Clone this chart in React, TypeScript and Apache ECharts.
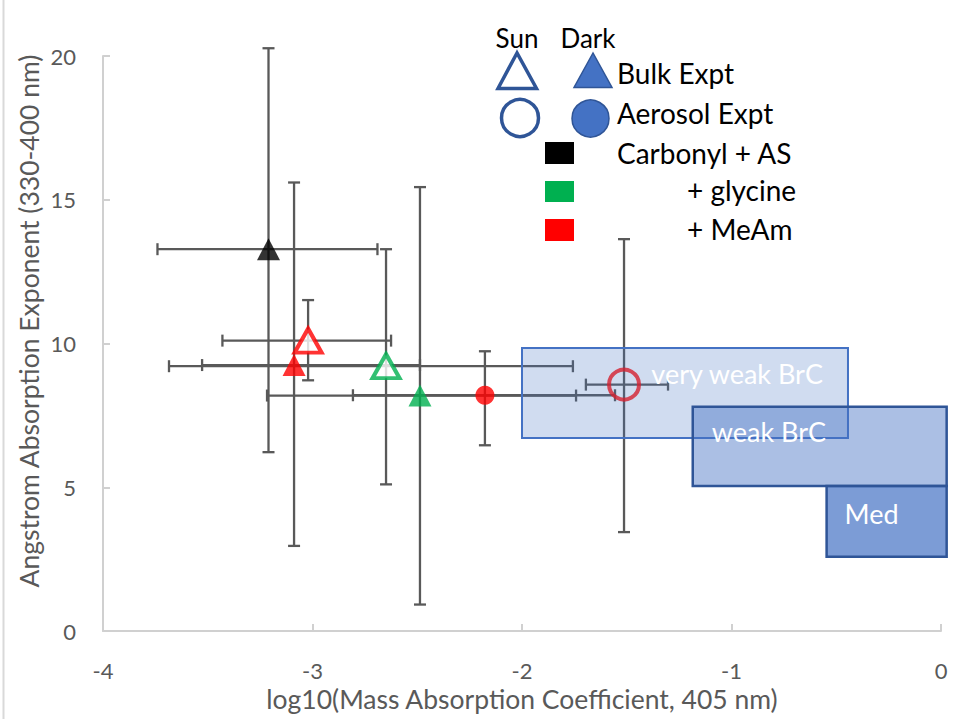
import React, { useEffect, useRef } from "react";
import * as echarts from "echarts";

// ---- data ----
const pointNames = [
  "Carbonyl + AS, Bulk, Dark",
  "+ MeAm, Bulk, Sun",
  "+ MeAm, Bulk, Dark",
  "+ glycine, Bulk, Sun",
  "+ glycine, Bulk, Dark",
  "+ MeAm, Aerosol, Dark",
  "+ MeAm, Aerosol, Sun",
];
const pointX = [-3.21, -3.021, -3.088, -2.649, -2.487, -2.177, -1.513];
const pointY = [13.28, 10.1, 9.25, 9.21, 8.19, 8.2, 8.57];
const xLow = [-3.74, -3.43, -3.527, -3.685, -3.217, -2.807, -1.695];
const xHigh = [-2.69, -2.625, -2.487, -1.757, -1.742, -1.556, -1.303];
const yLow = [6.22, 8.72, 2.96, 5.1, 0.92, 6.46, 3.44];
const yHigh = [20.27, 11.51, 15.6, 13.28, 15.44, 9.73, 13.63];

const boxNames = ["very weak BrC", "weak BrC", "Med"];
const boxXMin = [-2.0, -1.185, -0.546];
const boxXMax = [-0.444, 0.027, 0.027];
const boxYMin = [6.71, 5.04, 2.58];
const boxYMax = [9.84, 7.8, 5.04];

const xTickMin = -4;
const xTickMax = 0;
const yTickMin = 0;
const yTickMax = 20;

const xTitle = "log10(Mass Absorption Coefficient, 405 nm)";
const yTitle = "Angstrom Absorption Exponent (330-400 nm)";

// ---- styles ----
const FONT = "Lato";
const AXIS_GRAY = "#595959";
const ERR = "#595959";

const markerStyles: any[] = [
  { symbol: "triangle", symbolSize: [23, 22], itemStyle: { color: "#000000" } },
  { symbol: "triangle", symbolSize: [27, 24], itemStyle: { color: "#ffffff", borderColor: "#ff0000", borderWidth: 4 } },
  { symbol: "triangle", symbolSize: [23, 22], itemStyle: { color: "#ff0000" } },
  { symbol: "triangle", symbolSize: [27, 24], itemStyle: { color: "#ffffff", borderColor: "#00b050", borderWidth: 4 } },
  { symbol: "triangle", symbolSize: [23, 22], itemStyle: { color: "#00b050" } },
  { symbol: "circle", symbolSize: 19, itemStyle: { color: "#ff0000" } },
  { symbol: "circle", symbolSize: 30, itemStyle: { color: "rgba(0,0,0,0)", borderColor: "#d4202f", borderWidth: 4 } },
];

const boxStyles = [
  { fill: "rgba(68,114,196,0.25)", stroke: "#4472c4", lineWidth: 2, label: { align: "right", dx: -25, dy: 25, anchor: "right" } },
  { fill: "rgba(68,114,196,0.45)", stroke: "#2f5597", lineWidth: 2.5, label: { align: "left", dx: 19, dy: 25, anchor: "left" } },
  { fill: "rgba(68,114,196,0.70)", stroke: "#2f5597", lineWidth: 2.5, label: { align: "left", dx: 18, dy: 27, anchor: "left" } },
];

export default function App() {
  const ref = useRef<HTMLDivElement>(null);
  useEffect(() => {
    if (!ref.current) return;
    const chart = echarts.init(ref.current, undefined, { renderer: "svg" });

    const errData = pointX.map((x, i) => [x, pointY[i], xLow[i], xHigh[i], yLow[i], yHigh[i]]);
    const boxData = boxNames.map((n, i) => [boxXMin[i], boxYMin[i], boxXMax[i], boxYMax[i]]);
    const scatterData = pointX.map((x, i) => ({
      name: pointNames[i],
      value: [x, pointY[i]],
      ...markerStyles[i],
    }));

    const legendText = (text: string, x: number, y: number, align = "left", size = 28) => ({
      type: "text",
      x,
      y,
      style: { text, fill: "#000000", font: `${size}px ${FONT}`, textAlign: align, textVerticalAlign: "middle" },
    });

    const option: any = {
      animation: false,
      backgroundColor: "#ffffff",
      textStyle: { fontFamily: FONT },
      grid: { left: 103, right: 14, top: 56, bottom: 88, containLabel: false },
      xAxis: {
        type: "value",
        min: xTickMin,
        max: xTickMax,
        interval: 1,
        name: xTitle,
        nameLocation: "middle",
        nameGap: 51,
        nameTextStyle: { color: AXIS_GRAY, fontSize: 26.5, fontFamily: FONT },
        axisLine: { onZero: false, lineStyle: { color: "#d0d0d0", width: 2 } },
        axisTick: { inside: true, length: 7, lineStyle: { color: "#d0d0d0", width: 2 } },
        axisLabel: { color: AXIS_GRAY, fontSize: 22, margin: 28, fontFamily: FONT },
        splitLine: { show: false },
      },
      yAxis: {
        type: "value",
        min: yTickMin,
        max: yTickMax,
        interval: 5,
        axisLine: { show: true, onZero: false, lineStyle: { color: "#d0d0d0", width: 2 } },
        axisTick: { show: true, inside: true, length: 7, lineStyle: { color: "#d0d0d0", width: 2 } },
        axisLabel: { color: AXIS_GRAY, fontSize: 22, margin: 27, fontFamily: FONT },
        splitLine: { show: false },
      },
      series: [
        {
          type: "custom",
          name: "error bars",
          z: 1,
          clip: false,
          encode: { x: 0, y: 1 },
          data: errData,
          renderItem: (params: any, api: any) => {
            const x = api.value(0), y = api.value(1);
            const c = api.coord([x, y]);
            const xl = api.coord([api.value(2), y]);
            const xh = api.coord([api.value(3), y]);
            const yl = api.coord([x, api.value(4)]);
            const yh = api.coord([x, api.value(5)]);
            const cap = 6;
            const style = { stroke: ERR, lineWidth: 2.3 };
            const ln = (x1: number, y1: number, x2: number, y2: number) => ({ type: "line", shape: { x1, y1, x2, y2 }, style });
            return {
              type: "group",
              children: [
                ln(xl[0], c[1], xh[0], c[1]),
                ln(xl[0], c[1] - cap, xl[0], c[1] + cap),
                ln(xh[0], c[1] - cap, xh[0], c[1] + cap),
                ln(c[0], yl[1], c[0], yh[1]),
                ln(c[0] - cap, yl[1], c[0] + cap, yl[1]),
                ln(c[0] - cap, yh[1], c[0] + cap, yh[1]),
              ],
            };
          },
        },
        {
          type: "custom",
          name: "BrC classes",
          z: 2,
          clip: false,
          encode: { x: [0, 2], y: [1, 3] },
          data: boxData,
          renderItem: (params: any, api: any) => {
            const i = params.dataIndex;
            const p1 = api.coord([api.value(0), api.value(3)]);
            const p2 = api.coord([api.value(2), api.value(1)]);
            const st = boxStyles[i];
            const lx = st.label.anchor === "right" ? p2[0] + st.label.dx : p1[0] + st.label.dx;
            return {
              type: "group",
              children: [
                {
                  type: "rect",
                  shape: { x: p1[0], y: p1[1], width: p2[0] - p1[0], height: p2[1] - p1[1] },
                  style: { fill: st.fill, stroke: st.stroke, lineWidth: st.lineWidth },
                },
                {
                  type: "text",
                  x: lx,
                  y: p1[1] + st.label.dy,
                  z2: 10,
                  style: {
                    text: boxNames[i],
                    fill: "#ffffff",
                    font: `27px ${FONT}`,
                    textAlign: st.label.align,
                    textVerticalAlign: "middle",
                  },
                },
              ],
            };
          },
        },
        {
          type: "scatter",
          name: "points",
          z: 3,
          data: scatterData,
        },
      ],
      graphic: [
        { type: "line", shape: { x1: 3.5, y1: 0, x2: 3.5, y2: 719 }, style: { stroke: "#d9d9d9", lineWidth: 2 } },
        {
          type: "text",
          x: 29,
          y: 321,
          rotation: Math.PI / 2,
          style: { text: yTitle, fill: AXIS_GRAY, font: `26.5px ${FONT}`, textAlign: "center", textVerticalAlign: "middle" },
        },
        legendText("Sun", 517, 38, "center", 26),
        legendText("Dark", 588, 38, "center", 26),
        { type: "polygon", shape: { points: [[517, 53], [498, 88.5], [536.5, 88.5]] }, style: { fill: "#ffffff", stroke: "#2f5597", lineWidth: 3.5 } },
        { type: "polygon", shape: { points: [[593, 53], [574, 87.5], [612, 87.5]] }, style: { fill: "#4472c4", stroke: "#2f5597", lineWidth: 1.5 } },
        legendText("Bulk Expt", 617, 73),
        { type: "circle", shape: { cx: 520, cy: 118, r: 18.5 }, style: { fill: "#ffffff", stroke: "#2f5597", lineWidth: 3.5 } },
        { type: "circle", shape: { cx: 590.5, cy: 118.5, r: 18.5 }, style: { fill: "#4472c4", stroke: "#2f5597", lineWidth: 1.5 } },
        legendText("Aerosol Expt", 617, 113),
        { type: "rect", shape: { x: 545, y: 142, width: 29, height: 22 }, style: { fill: "#000000" } },
        { type: "rect", shape: { x: 545, y: 181, width: 29, height: 21 }, style: { fill: "#00b050" } },
        { type: "rect", shape: { x: 545, y: 219, width: 29, height: 22 }, style: { fill: "#ff0000" } },
        legendText("Carbonyl + AS", 617, 153),
        legendText("+ glycine", 687, 190),
        legendText("+ MeAm", 687, 229),
      ],
    };
    chart.setOption(option);
    return () => chart.dispose();
  }, []);
  return (
    <div
      ref={ref}
      style={{ position: "absolute", left: 0, top: 0, width: 955, height: 719, background: "#ffffff" }}
    />
  );
}
